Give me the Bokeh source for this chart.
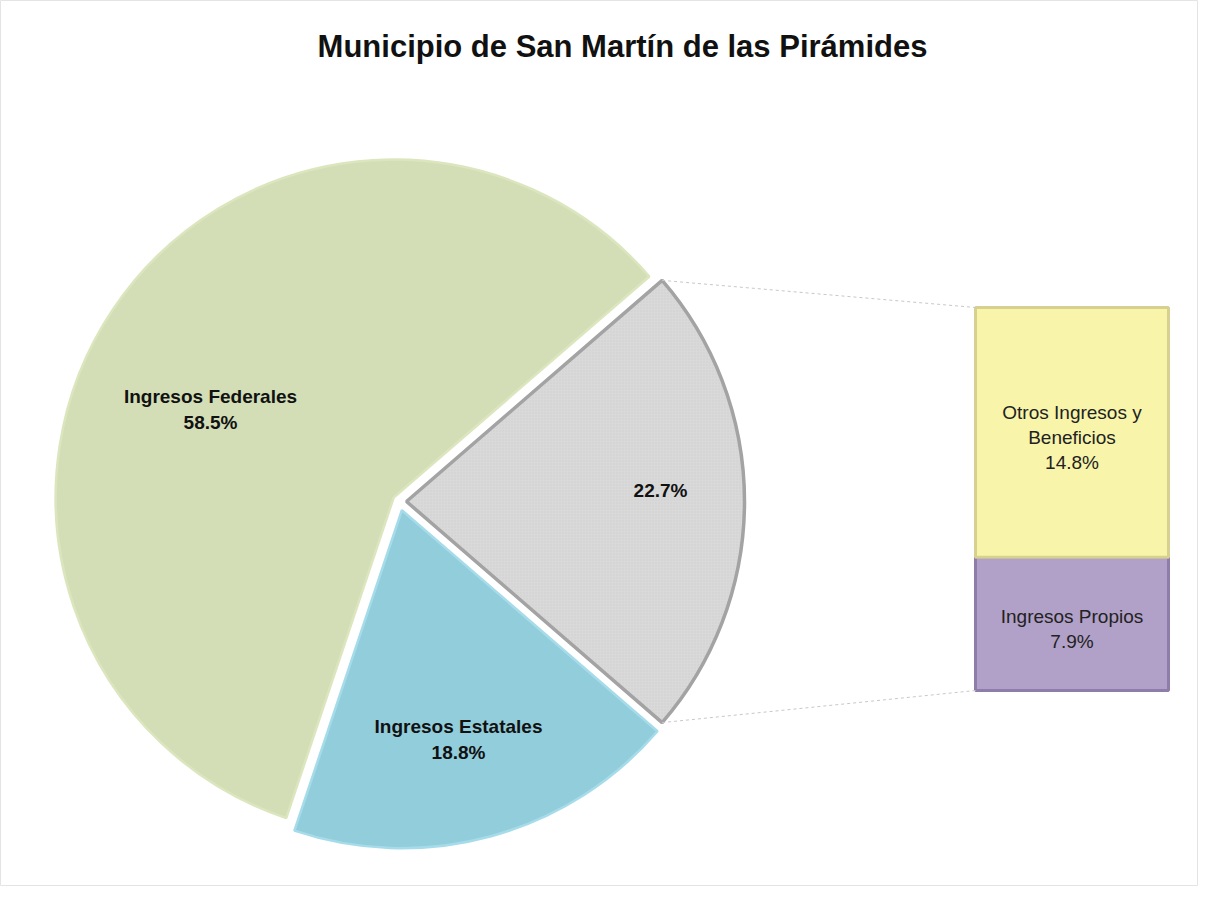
import math
from bokeh.plotting import figure
from bokeh.models import Range1d
from bokeh.core.properties import value
from bokeh.embed import file_html
from bokeh.resources import INLINE

# ---- data ----
title_text = "Municipio de San Martín de las Pirámides"
pie_labels = ["Ingresos Federales", "Ingresos Estatales", ""]
pie_values = [58.5, 18.8, 22.7]          # last slice = "Otros" expanded in the bar
bar_labels = ["Ingresos Propios", "Otros Ingresos y\nBeneficios"]
bar_values = [7.9, 14.8]                 # bottom -> top

# ---- style / layout ----
W, H = 1198, 886
FONT = "Liberation Sans"
pie_colors = ["#D3DEB7", "#92CDDC", "#D9D9D9"]
pie_lines = ["#DCE6BE", "#A6DCEA", "#A3A3A3"]
pie_lw = [2.5, 2.5, 3.5]
bar_colors = ["#B1A0C7", "#F8F4AA"]
bar_lines = ["#8F7DA9", "#D6D190"]

def py(y_px):
    return H - y_px

cx, cy = 399, py(501)
R = 338
explode = [7, 9, 7]

p = figure(width=W, height=H, output_backend="svg", toolbar_location=None,
           x_range=Range1d(0, W), y_range=Range1d(0, H),
           min_border=0)
p.axis.visible = False
p.grid.visible = False
p.background_fill_color = "white"
p.border_fill_color = "white"
p.outline_line_color = "#E4E4E4"
p.outline_line_width = 1

total = sum(pie_values)
half = pie_values[2] / total * math.pi      # half-angle of grey slice
a0 = half
a1 = a0 + pie_values[0] / total * 2 * math.pi
a2 = a1 + pie_values[1] / total * 2 * math.pi
starts = [a0, a1, -half]
ends = [a1, a2, half]

centers = []
for i in range(3):
    mid = (starts[i] + ends[i]) / 2
    ox = cx + explode[i] * math.cos(mid)
    oy = cy + explode[i] * math.sin(mid)
    centers.append((ox, oy))
    kw = {}
    if i == 2:
        kw = dict(hatch_pattern="dot", hatch_color="#C4C4C4", hatch_scale=3, hatch_alpha=0.6)
    p.wedge(x=ox, y=oy, radius=R, start_angle=starts[i], end_angle=ends[i],
            direction="anticlock", fill_color=pie_colors[i],
            line_color=pie_lines[i], line_width=pie_lw[i], **kw)

# ---- bar of pie ----
bx0, bx1 = 975, 1168
b_bottom = py(690)
scale = (690 - 307) / sum(bar_values)
bottoms = []
acc = b_bottom
for i, v in enumerate(bar_values):
    top = acc + v * scale
    bottoms.append((acc, top))
    p.quad(left=bx0, right=bx1, bottom=acc, top=top,
           fill_color=bar_colors[i], line_color=bar_lines[i], line_width=3)
    acc = top

# connector lines
gx, gy = centers[2]
top_corner = (gx + R * math.cos(half), gy + R * math.sin(half))
bot_corner = (gx + R * math.cos(-half), gy + R * math.sin(-half))
p.segment(x0=[top_corner[0], bot_corner[0]], y0=[top_corner[1], bot_corner[1]],
          x1=[bx0, bx0], y1=[acc, b_bottom],
          line_color="#C8C8C8", line_dash="3 3", line_width=1)

# ---- texts ----
p.text(x=[622], y=[py(46)], text=[title_text], text_font=value(FONT),
       text_font_size="31px", text_font_style="bold", text_color="#111111",
       text_align="center", text_baseline="middle")

pie_text = [f"{pie_labels[0]}\n{pie_values[0]}%",
            f"{pie_labels[1]}\n{pie_values[1]}%",
            f"{pie_values[2]}%"]
pie_text_pos = [(210, py(409)), (458, py(739)), (660, py(490))]
p.text(x=[q[0] for q in pie_text_pos], y=[q[1] for q in pie_text_pos], text=pie_text,
       text_font=value(FONT), text_font_size="19px", text_font_style="bold",
       text_color="#111111", text_align="center", text_baseline="middle",
       text_line_height=1.2)

bar_text = [f"{bar_labels[i]}\n{bar_values[i]}%" for i in range(2)]
bar_tx = [(bx0 + bx1) / 2] * 2
bar_ty = [(b + t) / 2 - 5 for b, t in bottoms]
p.text(x=bar_tx, y=bar_ty, text=bar_text,
       text_font=value(FONT), text_font_size="19px",
       text_color="#222222", text_align="center", text_baseline="middle",
       text_line_height=1.2)

open("out.html", "w").write(file_html(p, INLINE))
